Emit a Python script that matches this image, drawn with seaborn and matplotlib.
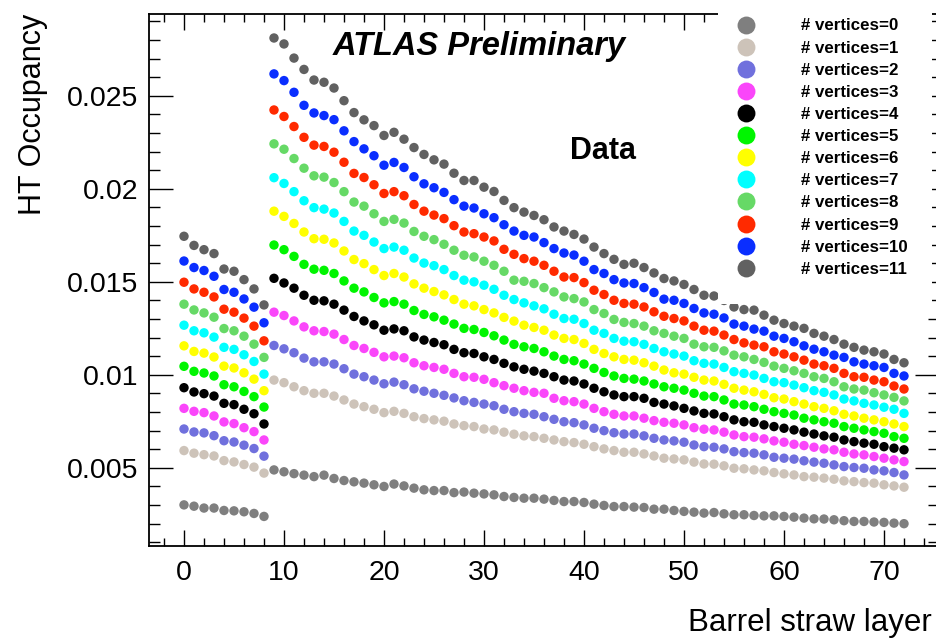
import numpy as np
import pandas as pd
import seaborn as sns
import matplotlib.pyplot as plt
from matplotlib.patches import Rectangle
from matplotlib.ticker import MultipleLocator, FuncFormatter

# barrel straw layers 0..72
layers = np.arange(73)

# HT occupancy per straw layer, in units of 1e-3, one list per number of vertices
occ_v0 = [3.01, 2.94, 2.84, 2.84, 2.71, 2.69, 2.64, 2.55, 2.39,
          4.89, 4.79, 4.69, 4.61, 4.53, 4.61, 4.43, 4.32, 4.25, 4.18, 4.09, 4.00, 4.13, 4.03, 3.91, 3.82, 3.78, 3.78, 3.67,
          3.70, 3.64, 3.60, 3.55, 3.46, 3.41, 3.37, 3.37, 3.32, 3.25, 3.19, 3.19, 3.14, 3.05, 2.98, 2.92, 2.92, 2.89, 2.87, 2.78,
          2.78, 2.71, 2.66, 2.62, 2.57, 2.60, 2.53, 2.48, 2.48, 2.44, 2.42, 2.42, 2.39, 2.35, 2.30, 2.26, 2.25, 2.21, 2.16, 2.12, 2.12, 2.09, 2.07, 2.03, 2.00]
occ_v1 = [5.93, 5.79, 5.71, 5.64, 5.39, 5.32, 5.18, 5.04, 4.72,
          9.72, 9.58, 9.36, 9.15, 9.01, 9.01, 8.86, 8.65, 8.43, 8.29, 8.15, 7.97, 8.04, 7.93, 7.75, 7.65, 7.58, 7.51, 7.36,
          7.27, 7.22, 7.09, 7.04, 6.92, 6.81, 6.72, 6.68, 6.59, 6.50, 6.41, 6.36, 6.27, 6.14, 6.02, 5.93, 5.84, 5.84, 5.75, 5.64,
          5.52, 5.48, 5.43, 5.31, 5.21, 5.20, 5.11, 4.98, 4.95, 4.89, 4.84, 4.75, 4.68, 4.62, 4.53, 4.50, 4.45, 4.39, 4.30, 4.26, 4.21, 4.18, 4.09, 4.03, 3.96]
occ_v2 = [7.09, 6.93, 6.88, 6.73, 6.46, 6.39, 6.22, 6.04, 5.63,
          11.58, 11.40, 11.19, 10.90, 10.70, 10.70, 10.58, 10.33, 10.04, 9.90, 9.72, 9.52, 9.61, 9.47, 9.25, 9.12, 9.01, 8.90, 8.76,
          8.61, 8.52, 8.43, 8.34, 8.15, 8.02, 7.93, 7.88, 7.75, 7.61, 7.48, 7.43, 7.31, 7.13, 7.00, 6.89, 6.82, 6.82, 6.72, 6.59,
          6.50, 6.45, 6.38, 6.23, 6.14, 6.11, 6.02, 5.87, 5.82, 5.79, 5.70, 5.57, 5.52, 5.47, 5.38, 5.31, 5.25, 5.16, 5.07, 5.02, 4.98, 4.89, 4.84, 4.75, 4.62]
occ_v3 = [8.20, 8.04, 7.97, 7.79, 7.47, 7.38, 7.16, 6.95, 6.50,
          13.37, 13.19, 12.90, 12.58, 12.37, 12.33, 12.19, 11.90, 11.58, 11.42, 11.21, 10.97, 11.01, 10.92, 10.65, 10.49, 10.40, 10.30, 10.08,
          9.90, 9.87, 9.76, 9.58, 9.42, 9.28, 9.15, 9.06, 9.01, 8.74, 8.61, 8.56, 8.43, 8.20, 8.02, 7.88, 7.79, 7.79, 7.67, 7.54,
          7.45, 7.40, 7.31, 7.16, 7.08, 7.04, 6.92, 6.77, 6.68, 6.65, 6.56, 6.45, 6.38, 6.27, 6.20, 6.11, 6.02, 5.97, 5.84, 5.75, 5.70, 5.61, 5.52, 5.43, 5.34]
occ_v4 = [9.31, 9.08, 8.99, 8.86, 8.47, 8.40, 8.15, 7.91, 7.36,
          15.19, 14.94, 14.66, 14.28, 14.01, 13.98, 13.80, 13.48, 13.14, 12.90, 12.69, 12.40, 12.47, 12.37, 12.04, 11.87, 11.74, 11.62, 11.37,
          11.19, 11.15, 10.97, 10.83, 10.62, 10.43, 10.30, 10.20, 10.08, 9.90, 9.72, 9.67, 9.51, 9.28, 9.09, 8.92, 8.83, 8.83, 8.74, 8.52,
          8.43, 8.33, 8.20, 8.06, 7.93, 7.90, 7.75, 7.58, 7.48, 7.45, 7.31, 7.22, 7.13, 7.04, 6.92, 6.82, 6.72, 6.65, 6.50, 6.41, 6.33, 6.27, 6.14, 6.06, 5.97]
occ_v5 = [10.46, 10.19, 10.10, 9.94, 9.47, 9.36, 9.11, 8.83, 8.27,
          16.98, 16.73, 16.37, 15.94, 15.68, 15.62, 15.45, 15.05, 14.66, 14.46, 14.16, 13.87, 13.94, 13.80, 13.46, 13.25, 13.12, 12.94, 12.73,
          12.50, 12.44, 12.28, 12.10, 11.87, 11.64, 11.51, 11.42, 11.24, 11.01, 10.83, 10.76, 10.58, 10.35, 10.13, 9.94, 9.81, 9.77, 9.67, 9.51,
          9.36, 9.28, 9.18, 9.01, 8.86, 8.83, 8.65, 8.43, 8.38, 8.29, 8.15, 8.02, 7.93, 7.84, 7.67, 7.58, 7.48, 7.40, 7.22, 7.13, 7.04, 6.95, 6.86, 6.68, 6.59]
occ_v6 = [11.56, 11.26, 11.17, 10.96, 10.47, 10.37, 10.11, 9.77, 9.15,
          18.80, 18.52, 18.14, 17.68, 17.32, 17.29, 17.09, 16.66, 16.20, 15.98, 15.66, 15.34, 15.45, 15.26, 14.89, 14.66, 14.48, 14.30, 14.05,
          13.80, 13.71, 13.51, 13.33, 13.09, 12.89, 12.67, 12.55, 12.40, 12.14, 11.96, 11.90, 11.69, 11.37, 11.15, 10.97, 10.83, 10.79, 10.65, 10.47,
          10.26, 10.11, 10.04, 9.87, 9.72, 9.67, 9.49, 9.28, 9.18, 9.09, 8.95, 8.77, 8.70, 8.56, 8.43, 8.29, 8.20, 8.07, 7.88, 7.79, 7.67, 7.58, 7.48, 7.36, 7.22]
occ_v7 = [12.67, 12.37, 12.26, 12.03, 11.48, 11.37, 11.08, 10.72, 10.04,
          20.60, 20.29, 19.85, 19.36, 18.99, 18.91, 18.70, 18.25, 17.73, 17.50, 17.14, 16.79, 16.87, 16.70, 16.28, 16.01, 15.87, 15.66, 15.34,
          15.09, 15.00, 14.82, 14.60, 14.28, 14.05, 13.87, 13.71, 13.55, 13.26, 13.03, 12.99, 12.76, 12.40, 12.23, 11.96, 11.81, 11.78, 11.64, 11.42,
          11.24, 11.12, 11.01, 10.76, 10.62, 10.58, 10.40, 10.17, 10.08, 9.99, 9.81, 9.63, 9.58, 9.45, 9.31, 9.15, 9.06, 8.92, 8.70, 8.60, 8.47, 8.38, 8.26, 8.15, 7.93]
occ_v8 = [13.80, 13.49, 13.33, 13.10, 12.49, 12.37, 12.08, 11.65, 10.94,
          22.42, 22.13, 21.63, 21.11, 20.70, 20.63, 20.34, 19.85, 19.29, 19.07, 18.66, 18.25, 18.36, 18.16, 17.71, 17.45, 17.27, 17.02, 16.70,
          16.43, 16.34, 16.11, 15.89, 15.57, 15.09, 15.03, 14.91, 14.69, 14.46, 14.19, 14.10, 13.92, 13.51, 13.30, 12.98, 12.82, 12.76, 12.62, 12.37,
          12.23, 12.08, 11.96, 11.65, 11.51, 11.48, 11.29, 11.06, 10.97, 10.83, 10.67, 10.47, 10.35, 10.22, 10.08, 9.90, 9.81, 9.63, 9.36, 9.24, 9.18, 9.04, 8.92, 8.79, 8.60]
occ_v9 = [14.98, 14.62, 14.44, 14.19, 13.53, 13.37, 13.05, 12.62, 11.83,
          24.24, 23.89, 23.35, 22.77, 22.35, 22.28, 21.97, 21.43, 20.83, 20.61, 20.22, 19.75, 19.85, 19.63, 19.16, 18.80, 18.59, 18.40, 18.02,
          17.68, 17.59, 17.41, 17.20, 16.75, 16.48, 16.25, 16.11, 15.89, 15.57, 15.26, 15.23, 14.96, 14.55, 14.32, 14.01, 13.84, 13.80, 13.65, 13.39,
          13.15, 13.03, 12.90, 12.62, 12.40, 12.35, 12.14, 11.90, 11.72, 11.60, 11.51, 11.24, 11.12, 10.97, 10.79, 10.58, 10.49, 10.35, 10.08, 9.90, 9.87, 9.72, 9.63, 9.40, 9.24]
occ_v10 = [16.12, 15.77, 15.61, 15.30, 14.59, 14.44, 14.08, 13.64, 12.80,
           26.18, 25.82, 25.19, 24.49, 24.08, 23.94, 23.72, 23.12, 22.54, 22.15, 21.78, 21.27, 21.42, 21.15, 20.65, 20.27, 20.06, 19.81, 19.42,
           19.07, 18.97, 18.66, 18.45, 18.07, 17.73, 17.50, 17.41, 17.11, 16.79, 16.55, 16.44, 16.11, 15.66, 15.45, 15.12, 14.94, 14.91, 14.69, 14.43,
           14.07, 14.01, 13.84, 13.57, 13.33, 13.26, 13.06, 12.73, 12.62, 12.46, 12.35, 12.08, 11.96, 11.78, 11.56, 11.38, 11.24, 11.06, 10.94, 10.70, 10.58, 10.49, 10.40, 10.08, 9.94]
occ_v11 = [17.45, 16.96, 16.73, 16.52, 15.69, 15.57, 15.12, 14.62, 13.76,
           28.11, 27.79, 27.03, 26.42, 25.85, 25.73, 25.42, 24.74, 24.10, 23.71, 23.40, 22.87, 23.04, 22.67, 22.22, 21.85, 21.56, 21.33, 20.84,
           20.45, 20.45, 20.09, 19.86, 19.38, 18.99, 18.75, 18.57, 18.34, 17.95, 17.73, 17.55, 17.30, 16.87, 16.52, 16.21, 15.94, 16.00, 15.77, 15.48,
           15.18, 15.05, 14.86, 14.59, 14.28, 14.24, 14.00, 13.65, 13.51, 13.48, 13.21, 12.94, 12.76, 12.62, 12.50, 12.23, 12.08, 11.90, 11.65, 11.48, 11.33, 11.24, 11.12, 10.83, 10.65]

series = [occ_v0, occ_v1, occ_v2, occ_v3, occ_v4, occ_v5,
          occ_v6, occ_v7, occ_v8, occ_v9, occ_v10, occ_v11]
labels = ["# vertices=%d" % i for i in range(len(series))]
colors = ["#7f7f7f", "#cdc3b9", "#7070dd", "#fa46fa", "#000000", "#00f500",
          "#ffff00", "#00ffff", "#66d966", "#ff2a00", "#0a2eff", "#616161"]

df = pd.concat([pd.DataFrame({"layer": layers, "occ": np.array(v) / 1000.0, "nvtx": lab})
                for v, lab in zip(series, labels)], ignore_index=True)

sns.set_style("ticks", {"text.color": "black", "axes.labelcolor": "black",
                        "xtick.color": "black", "ytick.color": "black",
                        "axes.edgecolor": "black"})
plt.rcParams['font.family'] = ['Liberation Sans', 'DejaVu Sans']

fig = plt.figure(figsize=(9.37, 6.4), dpi=100)
ax = fig.add_axes([149/937, 94/640, 790/937, 532/640])

sns.scatterplot(data=df, x="layer", y="occ", hue="nvtx", hue_order=labels,
                palette=dict(zip(labels, colors)), s=46, linewidth=0, ax=ax, zorder=2)

ax.set_xlim(-3.5, 75.5)
ax.set_ylim(0.0008, 0.0294)
ax.xaxis.set_major_locator(MultipleLocator(10))
ax.xaxis.set_minor_locator(MultipleLocator(2))
ax.yaxis.set_major_locator(MultipleLocator(0.005))
ax.yaxis.set_minor_locator(MultipleLocator(0.001))
ax.yaxis.set_major_formatter(FuncFormatter(lambda v, p: "%g" % round(v, 4)))

for sp in ax.spines.values():
    sp.set_linewidth(1.3)
    sp.set_color("black")
ax.tick_params(which="both", direction="in", top=True, right=True, width=1.0,
               color="black", labelcolor="black")
ax.tick_params(axis="x", which="major", length=11.5, labelsize=20.5, pad=10)
ax.tick_params(axis="x", which="minor", length=5.5)
ax.tick_params(axis="y", which="major", length=17, labelsize=20.5, pad=8)
ax.tick_params(axis="y", which="minor", length=8)

ax.set_xlabel("Barrel straw layer", fontsize=22.5, ha="right", color="black")
ax.xaxis.set_label_coords((932 - 149) / 790, -0.117)
ax.set_ylabel("HT Occupancy", fontsize=22, ha="right", color="black")
ax.yaxis.set_label_coords(-0.128, 1.0)

ax.text((333 - 149) / 790, (546 - 46) / 532, "ATLAS Preliminary", transform=ax.transAxes,
        fontsize=23.5, fontweight="bold", fontstyle="italic", va="center", ha="left",
        color="black", zorder=4)
ax.text((570 - 149) / 790, (546 - 151) / 532, "Data", transform=ax.transAxes,
        fontsize=22, fontweight="bold", va="center", ha="left", color="black", zorder=4)

# white legend pad covering the upper right corner of the frame
ax.add_artist(Rectangle((718/937, 1 - 304/640), (932 - 718)/937, 304/640,
                        transform=fig.transFigure, facecolor="white", edgecolor="none",
                        clip_on=False, zorder=3))

sns.move_legend(ax, loc="upper left", bbox_to_anchor=(721/937, 1 - 10/640),
                bbox_transform=fig.transFigure, frameon=False, title=None,
                prop={"weight": "bold", "size": 12.2}, markerscale=1.9,
                borderpad=0, handlelength=1.9, handletextpad=2.35, labelspacing=0.42)
leg = ax.get_legend()
leg.set_zorder(5)
for t in leg.get_texts():
    t.set_color("black")

fig.savefig("out.png", dpi=100)
